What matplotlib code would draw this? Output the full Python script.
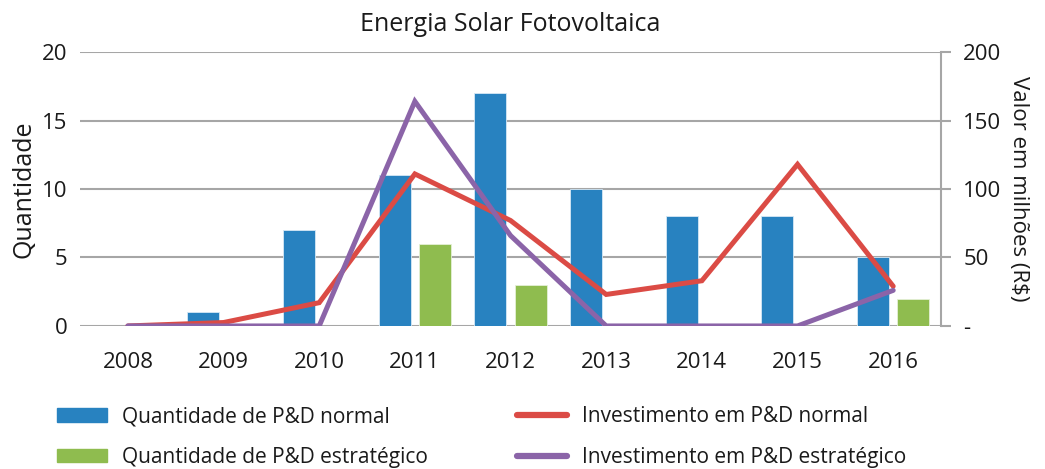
import numpy as np
import matplotlib.pyplot as plt
from matplotlib.ticker import FuncFormatter
from matplotlib.patches import Patch
from matplotlib.lines import Line2D

plt.rcParams['font.family'] = ['Open Sans', 'DejaVu Sans']

years = ['2008', '2009', '2010', '2011', '2012', '2013', '2014', '2015', '2016']
qtd_normal = [0, 1, 7, 11, 17, 10, 8, 8, 5]
qtd_estrategico = [0, 0, 0, 6, 3, 0, 0, 0, 2]
inv_normal = [0, 2.5, 17, 111, 77, 23, 33, 118, 29]
inv_estrategico = [0, 0, 0, 164, 66, 0, 0, 0, 26]

c_blue = '#2882C0'
c_green = '#8FBC4F'
c_red = '#DB4B45'
c_purple = '#8B64A8'
c_grid = '#A6A6A6'
c_text = '#1a1a1a'

fig = plt.figure(figsize=(10.45, 4.69), dpi=100)
ax = fig.add_axes([0.0766, 0.305, 0.8239, 0.584])
x = np.arange(len(years))

ax.bar(x - 0.21, qtd_normal, width=0.335, color=c_blue, edgecolor='#d6e8f5', linewidth=0.6, zorder=2)
ax.bar(x + 0.21, qtd_estrategico, width=0.335, color=c_green, edgecolor='#e4f0d6', linewidth=0.6, zorder=2)

ax.set_xlim(-0.5, len(years) - 0.5)
ax.set_ylim(0, 20)
ax.set_yticks([0, 5, 10, 15, 20])
ax.set_xticks(x)
ax.set_xticklabels(years)
ax.yaxis.grid(True, color=c_grid, linewidth=1.5, zorder=0)
ax.set_axisbelow(True)
for s in ['top', 'left', 'right', 'bottom']:
    ax.spines[s].set_visible(False)
ax.tick_params(axis='both', length=0, labelsize=16, colors=c_text)
ax.tick_params(axis='x', pad=19)
ax.tick_params(axis='y', pad=9)
ax.set_ylabel('Quantidade', fontsize=18, labelpad=4, color=c_text)

ax2 = ax.twinx()
ax2.plot(x, inv_normal, color=c_red, linewidth=3.6, solid_capstyle='round', solid_joinstyle='miter', zorder=3)
ax2.plot(x, inv_estrategico, color=c_purple, linewidth=3.6, solid_capstyle='round', solid_joinstyle='miter', zorder=3)
ax2.set_ylim(0, 200)
ax2.set_yticks([0, 50, 100, 150, 200])
ax2.yaxis.set_major_formatter(FuncFormatter(lambda v, p: '-' if v == 0 else f'{v:.0f}'))
for s in ['top', 'left', 'bottom']:
    ax2.spines[s].set_visible(False)
ax2.spines['right'].set_color(c_grid)
ax2.spines['right'].set_linewidth(1.5)
ax2.tick_params(axis='y', length=7, width=1.5, color=c_grid, labelsize=16, pad=9, labelcolor=c_text)
ax2.set_ylabel('Valor em milhões (R$)', fontsize=16, rotation=270, labelpad=20, color=c_text)

fig.text(0.488, 0.947, 'Energia Solar Fotovoltaica', fontsize=18, ha='center', va='center', color=c_text)

h_normal = [Patch(color=c_blue, label='Quantidade de P&D normal'),
            Patch(color=c_green, label='Quantidade de P&D estratégico')]
h_inv = [Line2D([0], [0], color=c_red, linewidth=4.5, solid_capstyle='round', label='Investimento em P&D normal'),
         Line2D([0], [0], color=c_purple, linewidth=4.5, solid_capstyle='round', label='Investimento em P&D estratégico')]
leg_kw = dict(loc='upper left', frameon=False, fontsize=15, handlelength=2.4, handleheight=0.65,
              labelspacing=0.95, handletextpad=0.7, borderpad=0, borderaxespad=0, labelcolor=c_text)
fig.legend(handles=h_normal, bbox_to_anchor=(57 / 1045, 1 - 406 / 469), **leg_kw)
fig.legend(handles=h_inv, bbox_to_anchor=(517 / 1045, 1 - 406 / 469), **leg_kw)

fig.savefig('out.png', dpi=100)
